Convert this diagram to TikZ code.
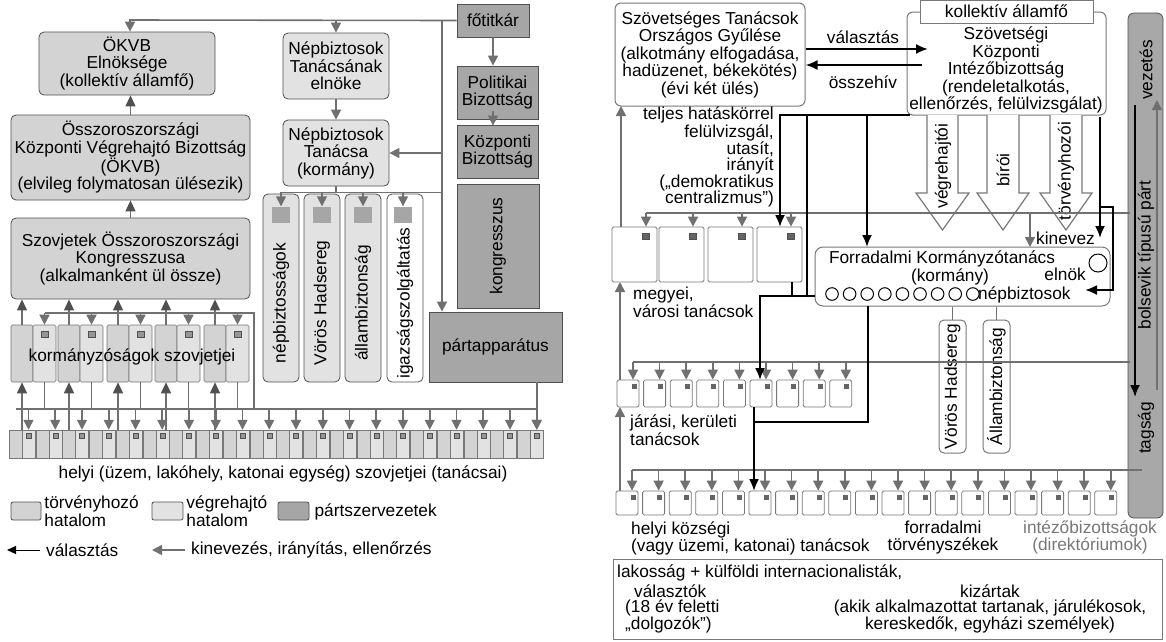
\documentclass[tikz,border=0pt]{standalone}
\usepackage{fontspec}
\setmainfont{Liberation Sans}
\usetikzlibrary{arrows.meta,calc}
\definecolor{gln}{RGB}{112,112,112}
\definecolor{bdc}{RGB}{80,80,80}
\definecolor{lgc}{RGB}{211,211,211}
\definecolor{exc}{RGB}{226,226,226}
\definecolor{ptc}{RGB}{166,166,166}
\definecolor{sqc}{RGB}{150,150,150}
\definecolor{rbd}{RGB}{120,120,120}
\definecolor{barc}{RGB}{168,168,168}
\definecolor{txg}{RGB}{120,120,120}
\definecolor{dsq}{RGB}{100,100,100}
\tikzset{
  tx/.style={font=\fontsize{17.3}{17.5}\selectfont, inner sep=0pt, align=center},
  boxbase/.style={tx, draw=bdc, line width=0.8pt, rounded corners=5pt},
  lbox/.style={boxbase, fill=lgc},
  ebox/.style={boxbase, fill=exc},
  pty/.style={tx, draw=bdc, line width=0.8pt, fill=ptc},
  gline/.style={draw=gln, line width=1.6pt},
  ga/.style={gline, -{Triangle[width=10pt,length=10pt]}},
  ea/.style={draw=gln, line width=1.2pt, -{Triangle[width=10pt,length=11pt,color=bdc]}},
  khalf/.style={draw=bdc!80, line width=0.6pt, inner sep=0pt, minimum height=57, rounded corners=1.5pt},
  lhalf/.style={draw=rbd, line width=0.5pt, inner sep=0pt, minimum width=13, minimum height=28},
  smsq/.style={draw=bdc, line width=0.4pt, fill=sqc, inner sep=0pt},
  wbox/.style={tx, draw=rbd, line width=1pt, fill=white, rounded corners=6pt},
  sbox/.style={draw=rbd, line width=0.8pt, fill=white, rounded corners=1.5pt, inner sep=0pt},
  bline/.style={draw=black, line width=2pt},
  ba/.style={bline, -{Latex[width=10pt,length=12pt]}},
  hollow/.style={draw=rbd, line width=1.2pt, fill=white},
  thg/.style={draw=gln, line width=0.9pt},
}
\begin{document}
\begin{tikzpicture}[x=1pt,y=-1pt]
\useasboundingbox (0,0) rectangle (1166,641);
\fill[white] (0,0) rectangle (1166,641);

%% ================= LEFT DIAGRAM =================
\node[pty,minimum width=72,minimum height=33] (fotit) at (493,20.5) {főtitkár};
\node[pty,minimum width=81,minimum height=53] (pb) at (497.5,92.5) {Politikai\\Bizottság};
\node[pty,minimum width=81,minimum height=53] (kb) at (497.5,151.5) {Központi\\Bizottság};
\node[pty,minimum width=82,minimum height=124] (kongr) at (498,246) {};
\node[tx,rotate=90] at (kongr.center) {kongresszus};
\node[pty,minimum width=133,minimum height=70] (papp) at (495.5,347) {pártapparátus};

\node[lbox,minimum width=176,minimum height=63] (elnokseg) at (127,63.5) {ÖKVB\\Elnöksége\\(kollektív államfő)};
\node[lbox,minimum width=239,minimum height=85] (okvb) at (130.5,157.5) {Összoroszországi\\Központi Végrehajtó Bizottság\\(ÖKVB)\\(elvileg folymatosan ülésezik)};
\node[lbox,minimum width=239,minimum height=81] (kongresszus) at (130.5,258.5) {Szovjetek Összoroszországi\\Kongresszusa\\(alkalmanként ül össze)};

\node[ebox,minimum width=106,minimum height=66] (nte) at (336,66) {Népbiztosok\\Tanácsának\\elnöke};
\node[ebox,minimum width=106,minimum height=66] (nt) at (336,153) {Népbiztosok\\Tanácsa\\(kormány)};

\foreach \i/\cx/\t/\f in {1/281/népbiztosságok/exc, 2/322/Vörös Hadsereg/exc, 3/363/állambiztonság/exc, 4/405/igazságszolgáltatás/white} {
  \node[ebox, fill=\f, minimum width=36, minimum height=188] (vb\i) at (\cx,288) {};
  \node[tx,rotate=90] at (\cx,303) {\t};
}
\foreach \i/\cx in {1/281,2/322,3/363,4/403} {
  \node[smsq, fill=ptc, draw=none, minimum width=18, minimum height=16] (vs\i) at (\cx,214.5) {};
}

\coordinate (tl) at (130,20);
\coordinate (v442) at (442,20);
\draw[ga] (fotit.west) -- (tl) -- (tl |- elnokseg.north);
\draw[ga] (nte.north |- tl) -- (nte.north);
\draw[ga] (v442) -- (v442 |- papp.north);
\draw[ga] (v442 |- nt.east) -- (nt.east);
\draw[ga] (fotit.south) -- (fotit.south |- pb.north);
\draw[ga] ($(pb.south)+(-4.5,-8)$) -- ($(kb.north)+(-4.5,1)$);
\draw[ga] (nte.south) -- (nt.north);
\draw[gline] (nt.south) -- ++(0,6) coordinate (ntb);
\draw[gline] (vs1.north |- ntb) -- (v442 |- ntb);
\foreach \i in {1,...,4} { \draw[ga] (vs\i.north |- ntb) -- (vs\i.north); }
\draw[ea] (okvb.north) -- (okvb.north |- elnokseg.south);
\draw[ea] (kongresszus.north) -- (okvb.south);

\coordinate (kbus) at (254,313);
\coordinate (bus) at (0,409);
\foreach \i/\a in {1/11,2/58,3/107,4/155,5/204} {
  \node[khalf, fill=lgc, minimum width=22] (kl\i) at (\a+11,353.5) {};
  \node[khalf, fill=exc, minimum width=23] (kr\i) at (\a+33.5,353.5) {};
  \node[smsq, minimum width=7, minimum height=6] at (\a+33.5,334) {};
}
\draw[gline] (kr1.north |- kbus) -- (kbus) -- (kbus |- bus);
\foreach \i in {1,...,5} {
  \draw[ga] (kr\i.north |- kbus) -- (kr\i.north);
  \draw[ea] (kl\i.north) -- (kl\i.north |- kongresszus.south);
  \draw[gline] (kr\i.south) -- (kr\i.south |- bus);
}

\foreach \i in {0,...,19} {
  \pgfmathsetmacro\xl{9+26.75*\i}
  \node[lhalf, fill=lgc] (ll\i) at (\xl+6.5,444) {};
  \node[lhalf, fill=exc] (lr\i) at (\xl+19.5,444) {};
  \node[smsq, minimum width=5, minimum height=5] at (\xl+19.5,436) {};
  \draw[ga] (lr\i.north |- bus) -- (lr\i.north);
}
\draw[gline] (ll0.north |- bus) -- (lr19.north |- bus);
\draw[ga] (papp.south -| lr19.north) -- (lr19.north);
\foreach \i in {1,...,5} { \draw[ea] (kl\i.south |- ll0.north) -- (kl\i.south); }

\node[tx] at (132,357) {kormányzóságok szovjetjei};
\node[tx] at (283,474) {helyi (üzem, lakóhely, katonai egység) szovjetjei (tanácsai)};

\node[boxbase, rounded corners=2pt, fill=lgc, minimum width=30, minimum height=18] (lg1) at (26,511) {};
\node[tx, anchor=west, align=left] at (lg1.east) {\,törvényhozó\\\,hatalom};
\node[boxbase, rounded corners=2pt, fill=exc, minimum width=31, minimum height=18] (lg2) at (167.5,511) {};
\node[tx, anchor=west, align=left] at (lg2.east) {\,végrehajtó\\\,hatalom};
\node[boxbase, rounded corners=2pt, fill=ptc, minimum width=31, minimum height=18] (lg3) at (293.5,511) {};
\node[tx, anchor=west] at ($(lg3.east)+(5,1)$) {pártszervezetek};
\coordinate (la1) at (40,550);
\coordinate (la2) at (185,550);
\draw[draw=black, line width=1pt, -{Triangle[width=8pt,length=9pt]}] (la1) -- ++(-33,0);
\node[tx, anchor=west] at ($(la1)+(6,0)$) {választás};
\draw[ga] (la2) -- ++(-33,0);
\node[tx, anchor=west] at ($(la2)+(6,0)$) {kinevezés, irányítás, ellenőrzés};

%% ================= RIGHT DIAGRAM =================
\node[wbox, minimum width=190, minimum height=103] (szt) at (710,54.5) {Szövetséges Tanácsok\\Országos Gyűlése\\(alkotmány elfogadása,\\hadüzenet, békekötés)\\(évi két ülés)};

\node[wbox, minimum width=199, minimum height=103] (szki) at (1006.5,63.5) {};
\node[tx] (szkit) at (1006,70) {Szövetségi\\Központi\\Intézőbizottság\\(rendeletalkotás,\\ellenőrzés, felülvizsgálat)};
\node[tx, draw=rbd, fill=white, line width=1pt, minimum width=173, minimum height=23] (kall) at (1006.5,11.5) {kollektív államfő};

\draw[ba] (szt.east |- 0,49) -- (928,49);
\node[tx] at (863,37) {választás};
\draw[ba] (922,65) -- (szt.east |- 0,65);
\node[tx] at (863,82) {összehív};

\draw[hollow] (927,115) -- (927,193) -- (916,193) -- (942.5,230) -- (969,193) -- (958,193) -- (958,115);
\draw[hollow] (987,115) -- (987,193) -- (977,193) -- (1003,230) -- (1029,193) -- (1019,193) -- (1019,115);
\draw[hollow] (1050,115) -- (1050,193) -- (1040,193) -- (1066,230) -- (1092,193) -- (1082,193) -- (1082,115);
\node[tx,rotate=90] at (943,166) {végrehajtói};
\node[tx,rotate=90] at (1003,170) {bírói};
\node[tx,rotate=90] at (1066,171) {törvényhozói};

\foreach \i/\a in {1/612,2/659,3/708,4/757} {
  \node[sbox, minimum width=45, minimum height=55] (m\i) at (\a+22.5,254.5) {};
  \node[smsq, fill=dsq, minimum width=7, minimum height=6] (ms\i) at (\a+34,236) {};
}
\node[tx, anchor=west, align=left] at (633,302.5) {megyei,\\városi tanácsok};

\node[wbox, rounded corners=8pt, minimum width=295, minimum height=59] (frk) at (962.5,276.5) {};
\node[tx] at (942,259) {Forradalmi Kormányzótanács};
\node[tx] at (950,276.5) {(kormány)};
\foreach \k in {0,...,8} { \draw[line width=1pt] (832+\k*17.6,294) circle (6.3); }
\node[tx, anchor=west] at (978,294.5) {népbiztosok};
\draw[line width=1pt] (1098,263) circle (9);
\node[tx, anchor=east] at (1086,274.5) {elnök};

\node[wbox, rounded corners=5pt, minimum width=27, minimum height=133] (vh) at (952.5,386.5) {};
\node[tx,rotate=90] at (vh.center) {Vörös Hadsereg};
\node[wbox, rounded corners=5pt, minimum width=27, minimum height=133] (ab) at (996.5,386.5) {};
\node[tx,rotate=90] at (ab.center) {Állambiztonság};
\draw[thg] (vh.north) -- (vh.north |- frk.south);
\draw[thg] (ab.north) -- (ab.north |- frk.south);

\foreach \i in {0,...,8} {
  \pgfmathsetmacro\xl{617+26.6*\i}
  \node[sbox, minimum width=22, minimum height=27] (j\i) at (\xl+11,393.5) {};
  \node[smsq, fill=dsq, draw=none, minimum width=5, minimum height=5] at (\xl+17,386) {};
}
\node[tx, anchor=west, align=left] at (630,430) {járási, kerületi\\tanácsok};

\foreach \i in {0,...,18} {
  \pgfmathsetmacro\xl{616+26.6*\i}
  \node[sbox, minimum width=22, minimum height=24] (h\i) at (\xl+11,503) {};
  \node[smsq, fill=dsq, draw=none, minimum width=5, minimum height=5] at (\xl+17,497) {};
}
\node[tx, anchor=west, align=left] at (631,538.5) {helyi községi\\(vagy üzemi, katonai) tanácsok};
\node[tx] at (943,537.5) {forradalmi\\törvényszékek};
\node[tx, text=txg] at (1090,537.5) {intézőbizottságok\\(direktóriumok)};

\node[draw=bdc, fill=barc, line width=0.8pt, rounded corners=6pt, minimum width=35, minimum height=505, inner sep=0pt] (bar) at (1145.5,265.5) {};
\node[tx,rotate=90] at (1146,70) {vezetés};
\node[tx,rotate=90] at (1146,255) {bolsevik típusú párt};
\node[tx,rotate=90] at (1146,428) {tagság};
\draw[ba] (1135,105) -- (1135,397);
\draw[ga] (1157,390) -- (1157,100);

\coordinate (g1) at (1130,213);
\coordinate (g2) at (1130,362);
\coordinate (g3) at (1142,470);
\draw[gline] (ms1.north |- g1) -- (g1);
\foreach \i in {1,...,4} { \draw[ga] (ms\i.north |- g1) -- (ms\i.north |- m\i.north); }
\draw[ga] (1030,213) -- (1030,247);
\node[tx, anchor=west] at (1036,238) {kinevez};
\draw[gline] (633,362) -- (g2);
\foreach \i in {0,...,8} { \draw[ga] ($(j\i.north)+(5,-18)$) -- ($(j\i.north)+(5,0)$); }
\draw[gline] (632,470) -- (g3);
\foreach \i in {0,...,18} { \draw[ga] ($(h\i.north)+(5,-21)$) -- ($(h\i.north)+(5,0)$); }

\draw[ga] (621,227) -- (621,106);
\draw[ga] (620,380) -- (620,282);
\draw[ga] (620,491) -- (620,407);

\draw[ba] (910,115) -- (780,115) -- (780,227);
\draw[bline] (807,115) -- (807,296) -- (frk.west |- 0,296);
\draw[ba] (807,296) -- (760,296) -- (760,380);
\draw[bline] (792,282) -- (792,296);
\draw[ba] (867,115) -- (867,247);
\draw[bline] (868,306) -- (868,422) -- (754,422);
\draw[bline] (754,407) -- (754,422);
\draw[ba] (754,422) -- (754,491);
\draw[ba] (1100,117) -- (1100,238);
\draw[ba] (1100,207) -- (1113,207) -- (1113,290) -- (1085,290);

\node[tx, anchor=east, align=right, font=\fontsize{17.3}{16.2}\selectfont] at (774,157) {teljes hatáskörrel\\felülvizsgál,\\utasít,\\irányít\\(„demokratikus\\centralizmus”)};

\node[draw=rbd, line width=1pt, fill=white, minimum width=549, minimum height=80, inner sep=0pt] (lak) at (887.5,599) {};
\node[tx, anchor=west] at (617,573) {lakosság + külföldi internacionalisták,};
\node[tx, anchor=west] at (634,591) {választók};
\node[tx, anchor=west, align=left] at (625,616.5) {(18 év feletti\\„dolgozók”)};
\node[tx] at (990,591) {kizártak};
\node[tx] at (990,616.5) {(akik alkalmazottat tartanak, járulékosok,\\kereskedők, egyházi személyek)};
\end{tikzpicture}
\end{document}
